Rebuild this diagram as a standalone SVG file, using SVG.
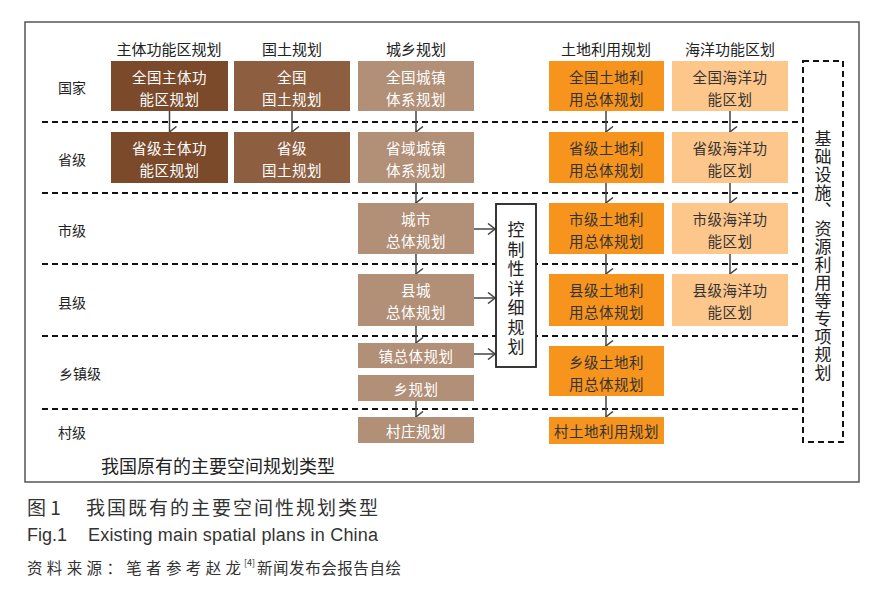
<svg xmlns="http://www.w3.org/2000/svg" width="886" height="600" viewBox="0 0 886 600">
<defs>
<style>
text{font-family:"Noto Sans CJK SC","Liberation Sans",sans-serif;dominant-baseline:central;text-anchor:middle}
.hd{font-size:15px;fill:#222}
.rl{font-size:14px;fill:#222}
.bt{font-size:14.5px;fill:#fff;letter-spacing:0.5px}
.bd{font-size:14.5px;fill:#333;letter-spacing:0.5px}
.vt{font-size:17px;fill:#222;writing-mode:vertical-rl;text-anchor:start}
.cap{fill:#333;text-anchor:start}
.c1{fill:#7A4A2B}
.c2{fill:#8D5E40}
.c3{fill:#B28F77}
.c4{fill:#F7941D}
.c5{fill:#FDC68B}
.dash{stroke:#111;stroke-width:2;stroke-dasharray:6,4;fill:none}
.ar{stroke:#444;stroke-width:1.5;fill:none;marker-end:url(#ah)}
.arh{stroke:#444;stroke-width:1.5;fill:none;marker-end:url(#ahr)}
</style>
<marker id="ah" viewBox="0 0 12 9" refX="6" refY="8" markerWidth="12" markerHeight="9" markerUnits="userSpaceOnUse" orient="auto-start-reverse">
<polyline points="0.5,1 6,8 11.5,1" fill="none" stroke="#444" stroke-width="1.5"/>
</marker>
<marker id="ahr" viewBox="0 0 9 12" refX="8" refY="6" markerWidth="9" markerHeight="12" markerUnits="userSpaceOnUse" orient="0">
<polyline points="1,0.5 8,6 1,11.5" fill="none" stroke="#444" stroke-width="1.5"/>
</marker>
</defs>
<rect width="886" height="600" fill="#fff"/>
<rect id="frame" x="25" y="22" width="834" height="460" fill="none" stroke="#555" stroke-width="1.5"/>

<g id="headers">
<text class="hd" x="169" y="48">主体功能区规划</text>
<text class="hd" x="292" y="48">国土规划</text>
<text class="hd" x="416" y="48">城乡规划</text>
<text class="hd" x="606" y="48">土地利用规划</text>
<text class="hd" x="730" y="48">海洋功能区划</text>
</g>

<g id="rowlabels">
<text class="rl" x="72" y="87">国家</text>
<text class="rl" x="72" y="159">省级</text>
<text class="rl" x="72" y="230">市级</text>
<text class="rl" x="72" y="302">县级</text>
<text class="rl" x="80" y="373">乡镇级</text>
<text class="rl" x="72" y="432">村级</text>
</g>

<g id="separators">
<line class="dash" x1="42" y1="122" x2="798" y2="122"/>
<line class="dash" x1="42" y1="193" x2="798" y2="193"/>
<line class="dash" x1="42" y1="264" x2="798" y2="264"/>
<line class="dash" x1="42" y1="336" x2="798" y2="336"/>
<line class="dash" x1="42" y1="409" x2="798" y2="409"/>
</g>

<g id="connectors">
<line class="ar" x1="169.5" y1="111" x2="169.5" y2="132"/>
<line class="ar" x1="292" y1="111" x2="292" y2="132"/>
<line class="ar" x1="416" y1="111" x2="416" y2="132"/>
<line class="ar" x1="606" y1="111" x2="606" y2="132"/>
<line class="ar" x1="730" y1="111" x2="730" y2="132"/>
<line class="ar" x1="416" y1="183" x2="416" y2="203"/>
<line class="ar" x1="606" y1="183" x2="606" y2="203"/>
<line class="ar" x1="730" y1="183" x2="730" y2="203"/>
<line class="ar" x1="416" y1="254" x2="416" y2="274"/>
<line class="ar" x1="606" y1="254" x2="606" y2="274"/>
<line class="ar" x1="730" y1="254" x2="730" y2="274"/>
<line class="ar" x1="416" y1="326" x2="416" y2="343"/>
<line class="ar" x1="606" y1="326" x2="606" y2="346"/>
<line class="ar" x1="416" y1="401" x2="416" y2="417"/>
<line class="ar" x1="606" y1="396" x2="606" y2="417"/>
<line class="arh" x1="474" y1="229" x2="495" y2="229"/>
<line class="arh" x1="474" y1="298" x2="495" y2="298"/>
<line class="arh" x1="474" y1="354" x2="495" y2="354"/>
</g>

<g id="n_zhuti_guo"><rect class="c1" x="111" y="61" width="117" height="50"/><text class="bt" x="169.5" y="76">全国主体功</text><text class="bt" x="169.5" y="98">能区规划</text></g>
<g id="n_zhuti_sheng"><rect class="c1" x="111" y="132" width="117" height="51"/><text class="bt" x="169.5" y="147">省级主体功</text><text class="bt" x="169.5" y="169">能区规划</text></g>
<g id="n_guotu_guo"><rect class="c2" x="234" y="61" width="116" height="50"/><text class="bt" x="292" y="76">全国</text><text class="bt" x="292" y="98">国土规划</text></g>
<g id="n_guotu_sheng"><rect class="c2" x="234" y="132" width="116" height="51"/><text class="bt" x="292" y="147">省级</text><text class="bt" x="292" y="169">国土规划</text></g>
<g id="n_cx_guo"><rect class="c3" x="358" y="61" width="116" height="50"/><text class="bt" x="416" y="76">全国城镇</text><text class="bt" x="416" y="98">体系规划</text></g>
<g id="n_cx_sheng"><rect class="c3" x="358" y="132" width="116" height="51"/><text class="bt" x="416" y="147">省域城镇</text><text class="bt" x="416" y="169">体系规划</text></g>
<g id="n_cx_shi"><rect class="c3" x="358" y="203" width="116" height="51"/><text class="bt" x="416" y="218">城市</text><text class="bt" x="416" y="240">总体规划</text></g>
<g id="n_cx_xian"><rect class="c3" x="358" y="274" width="116" height="52"/><text class="bt" x="416" y="289">县城</text><text class="bt" x="416" y="311">总体规划</text></g>
<g id="n_cx_zhen"><rect class="c3" x="358" y="343" width="116" height="25"/><text class="bt" x="416" y="355.5">镇总体规划</text></g>
<g id="n_cx_xiang"><rect class="c3" x="358" y="375" width="116" height="26"/><text class="bt" x="416" y="388">乡规划</text></g>
<g id="n_cx_cun"><rect class="c3" x="358" y="417" width="116" height="26"/><text class="bt" x="416" y="430">村庄规划</text></g>

<g id="n_kongzhi"><rect x="496" y="204" width="40" height="163" fill="#fff" stroke="#222" stroke-width="1.8"/>
<text class="vt" x="516" y="221.5" style="letter-spacing:2.5px">控制性详细规划</text>
</g>

<g id="n_td_guo"><rect class="c4" x="549" y="61" width="115" height="50"/><text class="bd" x="606.5" y="76">全国土地利</text><text class="bd" x="606.5" y="98">用总体规划</text></g>
<g id="n_td_sheng"><rect class="c4" x="549" y="132" width="115" height="51"/><text class="bd" x="606.5" y="147">省级土地利</text><text class="bd" x="606.5" y="169">用总体规划</text></g>
<g id="n_td_shi"><rect class="c4" x="549" y="203" width="115" height="51"/><text class="bd" x="606.5" y="218">市级土地利</text><text class="bd" x="606.5" y="240">用总体规划</text></g>
<g id="n_td_xian"><rect class="c4" x="549" y="274" width="115" height="52"/><text class="bd" x="606.5" y="289">县级土地利</text><text class="bd" x="606.5" y="311">用总体规划</text></g>
<g id="n_td_xiang"><rect class="c4" x="549" y="346" width="115" height="50"/><text class="bd" x="606.5" y="361">乡级土地利</text><text class="bd" x="606.5" y="383">用总体规划</text></g>
<g id="n_td_cun"><rect class="c4" x="549" y="417" width="115" height="27"/><text class="bd" x="606.5" y="430.5">村土地利用规划</text></g>

<g id="n_hy_guo"><rect class="c5" x="672" y="61" width="116" height="50"/><text class="bd" x="730" y="76">全国海洋功</text><text class="bd" x="730" y="98">能区划</text></g>
<g id="n_hy_sheng"><rect class="c5" x="672" y="132" width="116" height="51"/><text class="bd" x="730" y="147">省级海洋功</text><text class="bd" x="730" y="169">能区划</text></g>
<g id="n_hy_shi"><rect class="c5" x="672" y="203" width="116" height="51"/><text class="bd" x="730" y="218">市级海洋功</text><text class="bd" x="730" y="240">能区划</text></g>
<g id="n_hy_xian"><rect class="c5" x="672" y="274" width="116" height="52"/><text class="bd" x="730" y="289">县级海洋功</text><text class="bd" x="730" y="311">能区划</text></g>

<g id="n_zhuanxiang"><rect class="dash" x="803" y="61" width="40" height="381"/>
<text class="vt" x="823" y="130.5" style="letter-spacing:1px">基础设施、资源利用等专项规划</text>
</g>

<text x="218" y="465" font-size="18" fill="#222">我国原有的主要空间规划类型</text>

<g id="caption">
<text class="cap" x="27" y="506" font-size="19">图 1</text>
<text class="cap" x="86" y="506" font-size="19" textLength="292" lengthAdjust="spacing">我国既有的主要空间性规划类型</text>
<text class="cap" x="27" y="535" font-size="18" style="font-family:'Liberation Sans',sans-serif">Fig.1</text>
<text class="cap" x="88" y="535" font-size="18" textLength="290" lengthAdjust="spacing" style="font-family:'Liberation Sans',sans-serif">Existing main spatial plans in China</text>
<text class="cap" x="27" y="567" font-size="15.5" textLength="214" lengthAdjust="spacing">资料来源：笔者参考赵龙</text>
<text class="cap" x="244" y="562" font-size="9">[4]</text>
<text class="cap" x="257" y="567" font-size="15.5" textLength="144" lengthAdjust="spacing">新闻发布会报告自绘</text>
</g>
</svg>
